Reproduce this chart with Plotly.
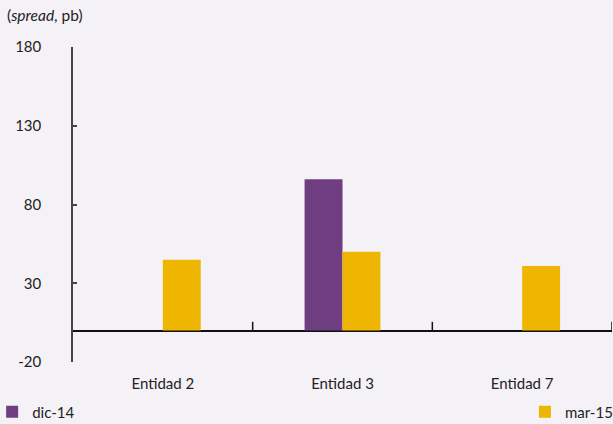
import plotly.graph_objects as go

categories = ["Entidad 2", "Entidad 3", "Entidad 7"]
dic14 = [None, 96, None]
mar15 = [45, 50, 41]
y_ticks = [-20, 30, 80, 130, 180]
y_tick_labels = ["-20", "30", "80", "130", "180"]

FONT = "Lato"
BG = "#f4f2f7"
PURPLE = "#6f3e80"
YELLOW = "#eeb600"
AXIS = "#444444"

fig = go.Figure()
fig.add_trace(go.Bar(x=categories, y=dic14, name="dic-14", marker_color=PURPLE,
                     marker_line_width=0, legend="legend", showlegend=True))
fig.add_trace(go.Bar(x=categories, y=mar15, name="mar-15", marker_color=YELLOW,
                     marker_line_width=0, legend="legend2", showlegend=True))

# boundary ticks on the zero line
shapes = []
for i in range(len(categories)):
    shapes.append(dict(type="line", xref="x", yref="y", x0=i + 0.5, x1=i + 0.5,
                       y0=0, y1=5.5, line=dict(color="#111111", width=1.5)))

fig.update_layout(
    width=613, height=424,
    showlegend=True,
    margin=dict(l=73, r=1, t=47, b=62, autoexpand=False),
    paper_bgcolor=BG, plot_bgcolor=BG,
    font=dict(family=FONT, size=15, color="#222222"),
    barmode="group", bargap=0.578, bargroupgap=0,
    shapes=shapes,
    xaxis=dict(showgrid=False, showline=False, ticks="", ticklabelstandoff=11,
               range=[-0.5, 2.5], tickfont=dict(size=15)),
    yaxis=dict(range=[-20, 180], tickvals=y_ticks, ticktext=y_tick_labels,
               showgrid=False,
               showline=True, linecolor=AXIS, linewidth=1.5,
               ticks="inside", ticklen=4, tickcolor=AXIS, tickwidth=1.5,
               zeroline=True, zerolinecolor="#111111", zerolinewidth=1.5,
               ticklabelstandoff=27, tickfont=dict(size=15)),
    legend=dict(x=-0.15, y=-0.159, xanchor="left", yanchor="middle",
                bgcolor="rgba(0,0,0,0)", font=dict(size=15), itemwidth=30),
    legend2=dict(x=1.011, y=-0.159, xanchor="right", yanchor="middle",
                 bgcolor="rgba(0,0,0,0)", font=dict(size=15), itemwidth=30),
    annotations=[dict(text="(<i>spread</i>, pb)", xref="paper", yref="paper",
                      x=-0.126, y=1.1016, xanchor="left", yanchor="middle",
                      showarrow=False, font=dict(size=15.5))],
)

fig.write_html("out.html", config={"displayModeBar": False},
               post_script="document.body.style.margin='0';")
